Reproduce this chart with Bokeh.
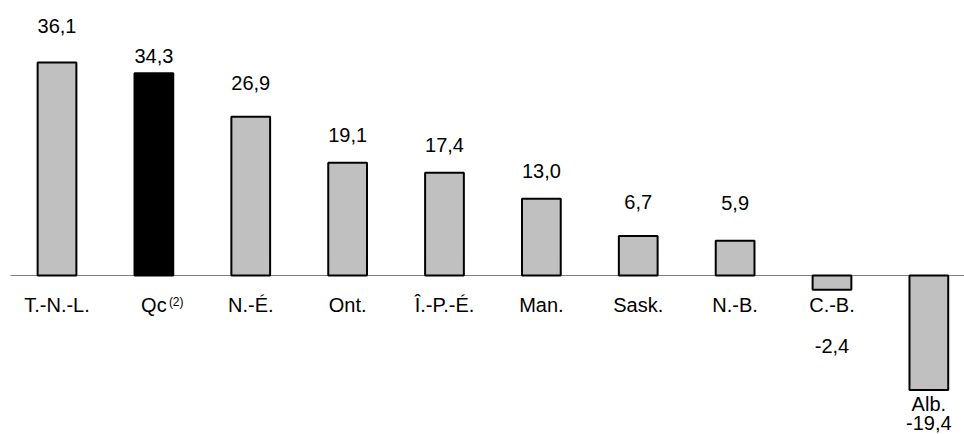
from bokeh.plotting import figure
from bokeh.models import ColumnDataSource, Range1d
from bokeh.core.properties import value
from bokeh.embed import file_html
from bokeh.resources import INLINE

# ---- data ----
provinces = ["T.-N.-L.", "Qc", "N.-É.", "Ont.", "Î.-P.-É.", "Man.", "Sask.", "N.-B.", "C.-B.", "Alb."]
growth = [36.1, 34.3, 26.9, 19.1, 17.4, 13.0, 6.7, 5.9, -2.4, -19.4]
highlight = "Qc"
qc_note = "(2)"

# ---- styles ----
FONT = value("Liberation Sans")
GREY = "#C0C0C0"
# pixel nudges of the value labels from the bar end (screen px, + = down)
label_dy = [-36.5, -17, -33.5, -27.5, -27.5, -28, -33.5, -38, 56, 33]
below_bar_labels = {"Alb."}

xs = list(range(len(provinces)))
colors = ["black" if n == highlight else GREY for n in provinces]
val_text = [f"{v:.1f}".replace(".", ",") for v in growth]

bars = ColumnDataSource(dict(x=xs, top=growth, color=colors))
vals = ColumnDataSource(dict(x=xs, y=growth, text=val_text, dy=label_dy))
cat_y = [growth[i] if n in below_bar_labels else 0 for i, n in enumerate(provinces)]
cat_dy = [14 if n in below_bar_labels else 30 for n in provinces]
cats = ColumnDataSource(dict(x=xs, y=cat_y, text=provinces, dy=cat_dy))

p = figure(width=964, height=434, output_backend="svg", toolbar_location=None,
           x_range=Range1d(-0.5833, 9.368), y_range=Range1d(-26.95, 46.61),
           min_border=0, outline_line_color=None)
p.axis.visible = False
p.grid.visible = False
p.background_fill_color = "white"

# baseline
p.segment(x0=[-0.48], y0=[0], x1=[9.368], y1=[0], line_color="#808080", line_width=1)

p.vbar(x="x", top="top", bottom=0, width=0.4, fill_color="color",
       line_color="black", line_width=2, source=bars)

p.text(x="x", y="y", text="text", y_offset="dy", source=vals,
       text_font=FONT, text_font_size="20px", text_align="center",
       text_baseline="middle", text_color="black")

p.text(x="x", y="y", text="text", y_offset="dy", source=cats,
       text_font=FONT, text_font_size="20px", text_align="center",
       text_baseline="middle", text_color="black")

qi = provinces.index(highlight)
p.text(x=[qi], y=[0], text=[qc_note], x_offset=15, y_offset=26.5,
       text_font=FONT, text_font_size="12px", text_align="left",
       text_baseline="middle", text_color="black")

open("out.html", "w").write(file_html(p, INLINE))
